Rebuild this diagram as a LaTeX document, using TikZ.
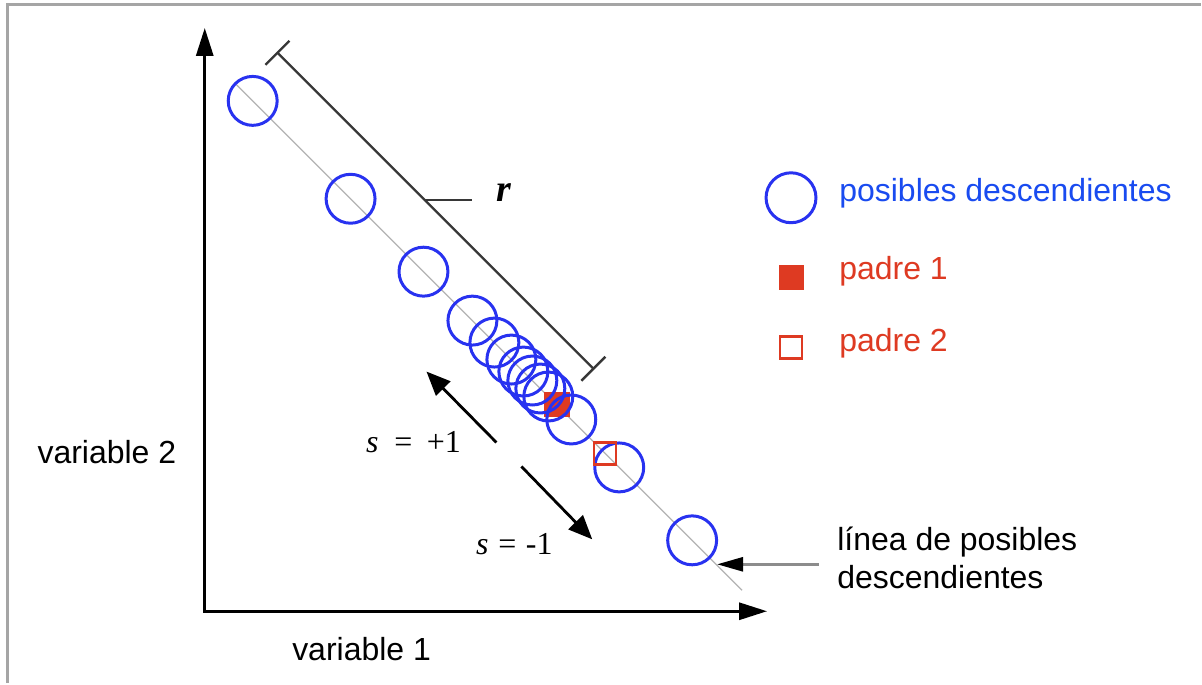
\documentclass[tikz,border=0pt]{standalone}
\usepackage{fontspec}
\setmainfont{Liberation Sans}
\newfontfamily\cxserif{Liberation Serif}
\usetikzlibrary{arrows.meta}
\definecolor{cxblue}{RGB}{40,50,240}
\definecolor{cxtxtblue}{RGB}{25,75,240}
\definecolor{cxred}{RGB}{222,58,34}
\definecolor{cxframe}{RGB}{165,165,165}
\definecolor{cxdark}{RGB}{55,55,55}

\begin{document}
\begin{tikzpicture}[x=0.5pt, y=-0.5pt,
  cxaxis/.style = {line width=1.5pt, {Triangle[length=14pt,width=8.5pt]}-{Triangle[length=14pt,width=8.5pt]}},
  cxline/.style = {draw=black!30, line width=0.6pt},
  cxdesc/.style = {circle, draw=cxblue, line width=1.5pt, minimum size=24.5pt, inner sep=0pt},
  cxpone/.style = {fill=cxred, minimum size=13pt, inner sep=0pt},
  cxptwo/.style = {draw=cxred, line width=1.1pt, minimum size=11pt, inner sep=0pt},
  cxbrk/.style = {cxdark, line width=1.2pt, {Bar[width=17pt]}-{Bar[width=17pt]}},
  cxarr/.style = {line width=1.4pt, -{Triangle[length=12pt,width=10pt]}},
  cxlbl/.style = {font=\fontsize{16}{19}\selectfont, inner sep=0pt},
  cxmath/.style = {font=\cxserif\fontsize{16}{19}\selectfont, inner sep=0pt}
]
  % marco
  \draw[cxframe, line width=1.5pt] (8,684) -- (8,5) -- (1202,5);
  \useasboundingbox (0,0) rectangle (1202,684);
  % ejes
  \coordinate (O) at (205,612);
  \coordinate (ytip) at (205,28);
  \coordinate (xtip) at (768,612);
  \draw[cxaxis] (ytip) -- (O) -- (xtip);
  \node[cxlbl] (v1) at (362,650) {variable 1};
  \node[cxlbl] (v2) at (107,453) {variable 2};
  % linea de descendientes
  \coordinate (lA) at (236,84);
  \coordinate (lB) at (743,591);
  \draw[cxline] (lA) -- (lB);
  % padres y descendientes
  \node[cxpone] (p1) at (558,405) {};
  \foreach \x [count=\i] in {253,351,424,473,495,512,524,533,541,549,572,620,693}
    \node[cxdesc] (d\i) at ({\x},{\x-152}) {};
  \node[cxptwo] (p2) at (606,454) {};
  % intervalo r
  \coordinate (rA) at (277,52);
  \coordinate (rB) at (595,370);
  \draw[cxbrk] (rA) -- (rB);
  \coordinate (rM) at (425,200);
  \coordinate (rE) at (473,200);
  \draw[cxdark, line width=1pt] (rM) -- (rE);
  \node[cxmath, font=\cxserif\fontsize{19}{22}\selectfont] (rl) at (505,193) {\textbf{\textit{r}}};
  % sentido s
  \coordinate (sA1) at (497,443);
  \coordinate (sB1) at (427,372);
  \coordinate (sA2) at (522,467);
  \coordinate (sB2) at (593,540);
  \draw[cxarr] (sA1) -- (sB1);
  \draw[cxarr] (sA2) -- (sB2);
  \node[cxmath] (s1) at (414,443) {\textit{s}\hspace{0.5em}=\hspace{0.45em}+1};
  \node[cxmath] (s2) at (515,545) {\textit{s}\hspace{0.3em}=\hspace{0.3em}-1};
  % leyenda
  \node[cxdesc, minimum size=25pt] (lg1) at (792,198) {};
  \node[cxpone, minimum size=12.5pt] (lg2) at (792,278) {};
  \node[cxptwo, minimum size=11pt] (lg3) at (792,348) {};
  \node[cxlbl, anchor=west, text=cxtxtblue] (t1) at (840,193) {posibles descendientes};
  \node[cxlbl, anchor=west, text=cxred] (t2) at (840,272) {padre 1};
  \node[cxlbl, anchor=west, text=cxred] (t3) at (840,344) {padre 2};
  % etiqueta de la linea
  \node[cxlbl, anchor=west, align=left] (lin) at (838,559) {línea de posibles\\descendientes};
  \coordinate (lE) at (820,565);
  \coordinate (lT) at (718,565);
  \draw[black!45, line width=1.4pt, -{Triangle[length=13pt,width=7pt,color=black]}] (lE) -- (lT);
\end{tikzpicture}
\end{document}
